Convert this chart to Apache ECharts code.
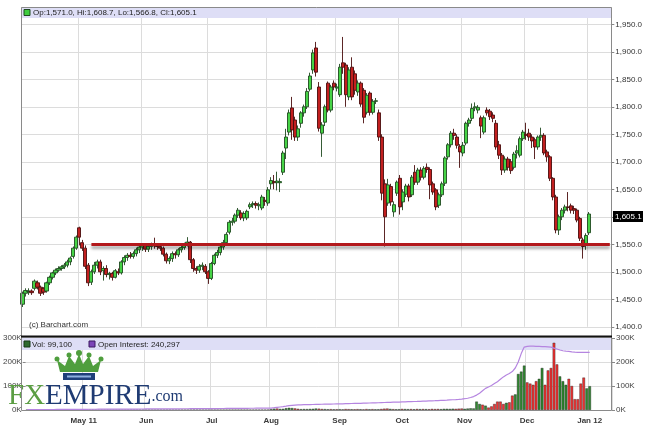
<!DOCTYPE html>
<html><head><meta charset="utf-8">
<script src="https://cdn.jsdelivr.net/npm/echarts@6/dist/echarts.min.js"></script>
<style>html,body{margin:0;padding:0;background:#fff}#c{width:645px;height:428px}</style>
</head><body><div id="c"></div>
<script>
// ---------- DATA ----------
const dates = ("2011-04-04 2011-04-05 2011-04-06 2011-04-07 2011-04-08 2011-04-11 2011-04-12 2011-04-13 2011-04-14 2011-04-15 2011-04-18 2011-04-19 2011-04-20 2011-04-21 2011-04-25 2011-04-26 2011-04-27 2011-04-28 2011-04-29 " +
"2011-05-02 2011-05-03 2011-05-04 2011-05-05 2011-05-06 2011-05-09 2011-05-10 2011-05-11 2011-05-12 2011-05-13 2011-05-16 2011-05-17 2011-05-18 2011-05-19 2011-05-20 2011-05-23 2011-05-24 2011-05-25 2011-05-26 2011-05-27 2011-05-31 " +
"2011-06-01 2011-06-02 2011-06-03 2011-06-06 2011-06-07 2011-06-08 2011-06-09 2011-06-10 2011-06-13 2011-06-14 2011-06-15 2011-06-16 2011-06-17 2011-06-20 2011-06-21 2011-06-22 2011-06-23 2011-06-24 2011-06-27 2011-06-28 2011-06-29 2011-06-30 " +
"2011-07-01 2011-07-05 2011-07-06 2011-07-07 2011-07-08 2011-07-11 2011-07-12 2011-07-13 2011-07-14 2011-07-15 2011-07-18 2011-07-19 2011-07-20 2011-07-21 2011-07-22 2011-07-25 2011-07-26 2011-07-27 2011-07-28 2011-07-29 " +
"2011-08-01 2011-08-02 2011-08-03 2011-08-04 2011-08-05 2011-08-08 2011-08-09 2011-08-10 2011-08-11 2011-08-12 2011-08-15 2011-08-16 2011-08-17 2011-08-18 2011-08-19 2011-08-22 2011-08-23 2011-08-24 2011-08-25 2011-08-26 2011-08-29 2011-08-30 2011-08-31 " +
"2011-09-01 2011-09-02 2011-09-06 2011-09-07 2011-09-08 2011-09-09 2011-09-12 2011-09-13 2011-09-14 2011-09-15 2011-09-16 2011-09-19 2011-09-20 2011-09-21 2011-09-22 2011-09-23 2011-09-26 2011-09-27 2011-09-28 2011-09-29 2011-09-30 " +
"2011-10-03 2011-10-04 2011-10-05 2011-10-06 2011-10-07 2011-10-10 2011-10-11 2011-10-12 2011-10-13 2011-10-14 2011-10-17 2011-10-18 2011-10-19 2011-10-20 2011-10-21 2011-10-24 2011-10-25 2011-10-26 2011-10-27 2011-10-28 2011-10-31 " +
"2011-11-01 2011-11-02 2011-11-03 2011-11-04 2011-11-07 2011-11-08 2011-11-09 2011-11-10 2011-11-11 2011-11-14 2011-11-15 2011-11-16 2011-11-17 2011-11-18 2011-11-21 2011-11-22 2011-11-23 2011-11-25 2011-11-28 2011-11-29 2011-11-30 " +
"2011-12-01 2011-12-02 2011-12-05 2011-12-06 2011-12-07 2011-12-08 2011-12-09 2011-12-12 2011-12-13 2011-12-14 2011-12-15 2011-12-16 2011-12-19 2011-12-20 2011-12-21 2011-12-22 2011-12-23 2011-12-27 2011-12-28 2011-12-29 2011-12-30 " +
"2012-01-03 2012-01-04 2012-01-05 2012-01-06 2012-01-09 2012-01-10 2012-01-11 2012-01-12").split(" ");

const tickDates  = ["2011-05-02","2011-06-01","2011-07-01","2011-08-01","2011-09-01","2011-10-03","2011-11-01","2011-12-01","2012-01-03"];
const tickLabels = ["May 11","Jun","Jul","Aug","Sep","Oct","Nov","Dec","Jan 12"];

const opens = [1441,1461,1464,1465,1470,1480,1472,1470,1465,1480,1490,1498,1503,1506,1509,1512,1518,1528,1543,
1580,1553,1543,1512,1481,1500,1512,1518,1502,1506,1495,1497,1490,1500,1498,1518,1526,1530,1528,1533,1540,
1545,1548,1541,1546,1549,1547,1546,1543,1532,1520,1524,1533,1531,1540,1544,1550,1554,1522,1506,1503,1510,1510,
1500,1488,1515,1530,1535,1545,1553,1572,1590,1592,1603,1607,1598,1598,1618,1622,1624,1620,1616,1630,
1625,1660,1664,1662,1662,1681,1725,1754,1798,1776,1745,1770,1789,1800,1832,1867,1907,1836,1752,1772,1843,1794,1843,
1834,1822,1880,1876,1818,1872,1860,1827,1843,1830,1790,1825,1790,1810,1789,1745,1660,1625,1655,1609,1643,
1670,1627,1641,1656,1640,1681,1663,1685,1672,1690,1686,1660,1649,1621,1640,1661,1709,1731,1752,1745,1728,
1716,1734,1770,1779,1798,1794,1780,1754,1794,1792,1785,1770,1731,1712,1685,1705,1700,1690,1716,1712,1742,
1750,1752,1745,1740,1727,1745,1748,1718,1709,1670,1636,1576,1600,1612,1618,1620,1615,1612,1597,1558,1548,
1571.0];
const closes = [1461,1466,1465,1462,1483,1472,1461,1463,1480,1490,1498,1503,1506,1509,1512,1518,1525,1543,1563,
1563,1543,1510,1480,1500,1512,1518,1500,1506,1495,1497,1490,1502,1498,1518,1526,1530,1528,1533,1540,1545,
1548,1541,1546,1549,1547,1546,1543,1532,1520,1524,1533,1531,1540,1544,1550,1554,1522,1506,1503,1510,1512,1500,
1488,1515,1530,1535,1545,1553,1568,1590,1592,1603,1612,1598,1606,1610,1622,1624,1621,1622,1636,1628,
1649,1666,1662,1665,1664,1716,1745,1789,1758,1745,1760,1789,1800,1828,1856,1898,1863,1761,1767,1800,1794,1836,1836,
1836,1872,1872,1822,1867,1818,1830,1843,1805,1781,1821,1790,1810,1811,1745,1643,1600,1658,1627,1622,1663,
1618,1645,1656,1636,1672,1663,1685,1672,1688,1686,1658,1645,1618,1640,1660,1707,1731,1752,1748,1730,1718,
1730,1770,1776,1797,1800,1799,1765,1780,1789,1782,1779,1727,1712,1685,1705,1690,1684,1714,1720,1742,1754,
1748,1745,1738,1727,1745,1748,1716,1709,1670,1636,1576,1600,1612,1618,1617,1612,1612,1594,1561,1546,1566,
1605.1];
const lows = [1436,1455,1458,1458,1466,1468,1456,1458,1462,1476,1486,1494,1500,1502,1505,1508,1512,1524,1540,
1548,1538,1505,1474,1476,1496,1506,1494,1484,1490,1486,1484,1488,1494,1495,1512,1520,1524,1524,1528,1534,
1538,1536,1536,1540,1542,1540,1538,1528,1515,1514,1518,1524,1527,1535,1540,1546,1516,1500,1496,1498,1503,1496,
1478,1485,1512,1525,1530,1540,1550,1568,1584,1588,1598,1594,1592,1594,1614,1616,1615,1612,1612,1620,
1620,1650,1650,1648,1645,1676,1705,1748,1740,1738,1738,1762,1782,1796,1828,1860,1855,1755,1709,1765,1790,1790,1830,
1828,1818,1860,1800,1812,1812,1822,1820,1800,1770,1786,1784,1786,1805,1738,1630,1546,1620,1620,1600,1638,
1604,1612,1636,1628,1636,1658,1658,1666,1668,1680,1632,1640,1612,1616,1636,1656,1704,1726,1740,1724,1689,
1710,1730,1764,1774,1792,1788,1743,1750,1784,1776,1772,1722,1705,1676,1680,1684,1678,1686,1706,1708,1738,
1740,1738,1725,1705,1722,1738,1712,1700,1665,1630,1570,1567,1594,1606,1610,1606,1605,1590,1556,1524,1540,
1566.8];
const highs = [1464,1470,1470,1468,1486,1484,1475,1472,1482,1493,1500,1506,1510,1512,1516,1522,1528,1546,1566,
1582,1558,1548,1516,1504,1518,1522,1522,1510,1512,1500,1500,1505,1506,1521,1530,1534,1536,1537,1544,1548,
1552,1552,1551,1553,1562,1552,1550,1546,1535,1528,1537,1537,1543,1547,1553,1563,1556,1525,1510,1514,1517,1514,
1503,1518,1533,1540,1549,1558,1572,1594,1598,1606,1616,1612,1610,1613,1626,1628,1628,1626,1640,1636,
1654,1672,1676,1682,1670,1720,1760,1795,1818,1782,1766,1792,1804,1834,1862,1904,1918,1845,1772,1804,1846,1840,1848,
1842,1878,1927,1880,1872,1890,1866,1848,1846,1834,1825,1828,1814,1816,1795,1750,1668,1669,1660,1628,1666,
1676,1650,1660,1660,1676,1694,1689,1690,1692,1697,1690,1664,1652,1644,1664,1710,1734,1756,1760,1750,1732,
1736,1773,1780,1806,1808,1803,1784,1784,1799,1796,1790,1776,1738,1716,1710,1709,1705,1718,1730,1746,1758,
1771,1760,1750,1744,1748,1762,1752,1722,1712,1672,1640,1604,1616,1622,1645,1624,1620,1615,1600,1562,1570,
1608.7];
const volumes = [400,350,500,300,450,380,600,420,500,350,400,520,380,450,300,420,500,650,700,
900,600,750,1100,800,500,450,600,700,550,400,450,500,380,600,550,420,480,400,350,500,
450,520,380,400,600,550,430,700,900,500,450,480,600,420,500,650,1100,900,600,500,480,700,
800,900,700,650,600,750,900,1100,800,950,1200,900,1000,850,900,1000,800,1100,900,1300,
3500,5500,6000,4500,5000,7500,9000,8000,6500,5000,3500,4000,3800,4500,5000,6000,5500,4200,3800,3000,3500,2800,3000,
3200,2500,4000,3500,3000,2800,3500,3000,2500,3800,3000,3500,2800,3000,4200,5500,6000,4500,3500,3000,3200,
4500,4000,3500,3800,3000,4200,3500,4000,3600,3200,4500,3800,4200,3500,4800,5000,4500,5200,4800,5500,6000,
5000,6000,7000,6500,35000,25000,22000,18000,10000,15000,25000,35000,35000,25000,30000,32000,60000,65000,150000,160000,185000,
115000,110000,105000,120000,130000,175000,105000,165000,175000,280000,190000,140000,120000,105000,130000,100000,45000,45000,110000,135000,90000,
99100];
const openInterest = [1500,1600,1650,1700,1800,1850,1900,2000,2050,2100,2200,2250,2300,2400,2450,2500,2600,2700,2800,
2900,3000,3050,3100,3200,3250,3300,3400,3450,3500,3550,3600,3700,3750,3800,3850,3900,4000,4050,4100,4200,
4300,4350,4400,4500,4600,4650,4700,4800,4900,4950,5000,5100,5150,5200,5300,5400,5450,5500,5600,5650,5700,5800,
5900,6000,6100,6200,6300,6400,6500,6600,6700,6800,6900,7000,7100,7200,7300,7400,7500,7600,7700,7900,
8200,9500,11000,12500,14000,16000,18000,19500,20500,21000,21500,22000,22300,22600,23000,23400,23800,24000,24300,24500,24800,25000,25300,
25600,25900,26200,26500,27000,27300,27600,28000,28400,28800,29100,29500,29900,30300,30800,31200,31600,32000,32400,32800,33200,
33600,34000,34500,35000,35400,35800,36300,36800,37200,37700,38200,38700,39300,39900,40500,41200,42000,42800,43600,44500,45500,
47000,49000,52000,56000,62000,70000,80000,90000,96000,102000,110000,118000,128000,138000,146000,152000,160000,175000,200000,235000,262000,
265000,266000,266000,265000,265000,264000,264000,263000,262000,258000,254000,250000,247000,245000,244000,242000,241000,240500,240000,240500,240000,
240297];
const supportLevel = 1550;
const supportStartDate = "2011-05-06";

// ---------- CHART ----------
const FONT = 'Liberation Sans, Arial, sans-serif';
const UP = '#46d346', DOWN = '#c21f1f';
const candles = opens.map((o, i) => [o, closes[i], lows[i], highs[i]]);
const last = candles.length - 1;
const fmt1 = v => v.toLocaleString('en-US', {minimumFractionDigits: 1, maximumFractionDigits: 1});
const fmtInt = v => Math.round(v).toLocaleString('en-US');
const isTick = (idx, val) => tickDates.indexOf(val) >= 0;
const tickLabel = val => { const k = tickDates.indexOf(val); return k >= 0 ? tickLabels[k] : ''; };
const kFmt = v => (v / 1000) + 'K';

const chart = echarts.init(document.getElementById('c'), null, {renderer: 'canvas'});
const gridLine = {show: true, lineStyle: {color: '#dcdcdc', width: 1}};

const option = {
  animation: false,
  backgroundColor: '#ffffff',
  textStyle: {fontFamily: FONT},
  grid: [
    {left: 21, right: 33, top: 7, height: 319.8},
    {left: 21, right: 33, top: 338, height: 72}
  ],
  xAxis: [
    {type: 'category', gridIndex: 0, data: dates, boundaryGap: true,
     axisLine: {show: false}, axisTick: {show: false}, axisLabel: {show: false},
     splitLine: Object.assign({interval: isTick}, gridLine)},
    {type: 'category', gridIndex: 1, data: dates, boundaryGap: true,
     axisLine: {show: false}, axisTick: {show: false},
     axisLabel: {interval: isTick, formatter: tickLabel, fontSize: 8, fontWeight: 'bold',
                 color: '#3a3a3a', margin: 7, fontFamily: FONT},
     splitLine: Object.assign({interval: isTick}, gridLine)}
  ],
  yAxis: [
    {type: 'value', gridIndex: 0, position: 'right', min: 1400, max: 1981.45, interval: 50,
     axisLine: {show: false}, axisTick: {show: true, length: 3, lineStyle: {color: '#888'}},
     axisLabel: {formatter: fmt1, fontSize: 8, color: '#333', margin: 4, showMaxLabel: false, fontFamily: FONT},
     splitLine: gridLine},
    {type: 'value', gridIndex: 1, position: 'right', min: 0, max: 300000, interval: 100000,
     axisLine: {show: false}, axisTick: {show: true, length: 3, lineStyle: {color: '#888'}},
     axisLabel: {formatter: kFmt, fontSize: 8, color: '#444', margin: 4, fontFamily: FONT},
     splitLine: gridLine},
    {type: 'value', gridIndex: 1, position: 'left', min: 0, max: 300000, interval: 100000,
     axisLine: {show: false}, axisTick: {show: true, length: 3, lineStyle: {color: '#888'}},
     axisLabel: {formatter: kFmt, fontSize: 8, color: '#444', margin: 4, fontFamily: FONT},
     splitLine: {show: false}}
  ],
  series: [
    {type: 'candlestick', xAxisIndex: 0, yAxisIndex: 0, data: candles, barWidth: 3.6, z: 3,
     itemStyle: {color: UP, color0: DOWN, borderColor: '#1f4a1f', borderColor0: '#4a0d0d', borderWidth: 0.9},
     markLine: {silent: true, symbol: ['none', 'none'], label: {show: false}, z: 4,
       lineStyle: {color: '#b3191c', width: 3, type: 'solid',
                   shadowColor: 'rgba(0,0,0,0.35)', shadowBlur: 3, shadowOffsetY: 3},
       data: [[{coord: [supportStartDate, supportLevel]}, {coord: [dates[dates.length - 1], supportLevel]}]]}
    },
    {type: 'bar', xAxisIndex: 1, yAxisIndex: 1, barWidth: 2.6, z: 3,
     data: volumes.map((v, i) => ({value: v, itemStyle: {color: closes[i] >= opens[i] ? '#2f8a2f' : '#f53232',
                                                       borderColor: '#222', borderWidth: 0.4}}))},
    {type: 'line', xAxisIndex: 1, yAxisIndex: 1, data: openInterest, symbol: 'none', z: 4,
     lineStyle: {color: '#b585e0', width: 1.2}}
  ]
};
chart.setOption(option);

// ---------- decorations (frames, headers, legends, logo) ----------
const lastC = candles[last];
const tagY = chart.convertToPixel({yAxisIndex: 0}, lastC[1]);
const hdr = 'Op:' + fmt1(lastC[0]) + ', Hi:' + fmt1(lastC[3]) + ', Lo:' + fmt1(lastC[2]) + ', Cl:' + fmt1(lastC[1]);
const txt = (x, y, s, extra) => Object.assign({type: 'text', x: x, y: y, z: 20,
  style: Object.assign({text: s, font: '8px ' + FONT, fill: '#222', verticalAlign: 'middle'}, extra || {})});

chart.setOption({graphic: [
  // main header band + legend
  {type: 'rect', z: 1, shape: {x: 22, y: 8, width: 589, height: 10}, style: {fill: '#dedef6'}},
  {type: 'rect', z: 20, shape: {x: 24, y: 9.5, width: 6, height: 6}, style: {fill: '#3fcc3f', stroke: '#1f4a1f', lineWidth: 1}},
  txt(33, 13, hdr),
  txt(29, 325, '(c) Barchart.com', {fill: '#333'}),
  // frames
  {type: 'rect', z: 15, shape: {x: 21.5, y: 7.5, width: 590, height: 329}, style: {fill: null, stroke: '#8a8a8a', lineWidth: 1}},
  {type: 'rect', z: 15, shape: {x: 21.5, y: 337, width: 590, height: 73.5}, style: {fill: null, stroke: '#8a8a8a', lineWidth: 1}},
  {type: 'line', z: 16, shape: {x1: 21, y1: 336.5, x2: 612, y2: 336.5}, style: {stroke: '#111', lineWidth: 2}},
  // volume header band + legend
  {type: 'rect', z: 1, shape: {x: 22, y: 338, width: 589, height: 12}, style: {fill: '#dedef6'}},
  {type: 'rect', z: 20, shape: {x: 24, y: 341, width: 6, height: 6}, style: {fill: '#2f6a2f', stroke: '#173817', lineWidth: 1}},
  txt(32, 344.5, 'Vol: ' + fmtInt(volumes[last])),
  {type: 'rect', z: 20, shape: {x: 89, y: 341, width: 6, height: 6}, style: {fill: '#7c45b8', stroke: '#3c1a60', lineWidth: 1}},
  txt(98, 344.5, 'Open Interest: ' + fmtInt(openInterest[last])),
  // last price tag
  {type: 'rect', z: 20, shape: {x: 613, y: tagY - 3, width: 30, height: 11}, style: {fill: '#000'}},
  txt(615, tagY + 2.5, fmt1(lastC[1]), {fill: '#fff'}),
  // FXEMPIRE logo: crown
  {type: 'group', z: 18, children: [
    {type: 'polygon', z: 18, shape: {points: [[60,372],[57,360],[65,366],[69,356],[75,364],[79,354],[83,364],[89,356],[93,366],[101,360],[98,372]]},
     style: {fill: '#4f9e3d'}},
    {type: 'circle', z: 18, shape: {cx: 57, cy: 359, r: 2.5}, style: {fill: '#4f9e3d'}},
    {type: 'circle', z: 18, shape: {cx: 69, cy: 355, r: 2.5}, style: {fill: '#4f9e3d'}},
    {type: 'circle', z: 18, shape: {cx: 79, cy: 353, r: 3}, style: {fill: '#4f9e3d'}},
    {type: 'circle', z: 18, shape: {cx: 89, cy: 355, r: 2.5}, style: {fill: '#4f9e3d'}},
    {type: 'circle', z: 18, shape: {cx: 101, cy: 359, r: 2.5}, style: {fill: '#4f9e3d'}},
    {type: 'rect', z: 18, shape: {x: 63, y: 373, width: 32, height: 7}, style: {fill: '#1f3f7a'}},
    {type: 'rect', z: 19, shape: {x: 67, y: 375.5, width: 24, height: 2}, style: {fill: '#8fb0e0'}}
  ]},
  {type: 'text', z: 18, x: 8, y: 411,
   style: {text: '{fx|FX}{em|EMPIRE}{com|.com}', verticalAlign: 'bottom',
     rich: {fx: {font: '29px Liberation Serif, serif', fill: '#5b9e43'},
            em: {font: '29px Liberation Serif, serif', fill: '#1f3b73'},
            com: {font: '16px Liberation Serif, serif', fill: '#1f3b73'}}}}
]});
</script>
</body></html>
